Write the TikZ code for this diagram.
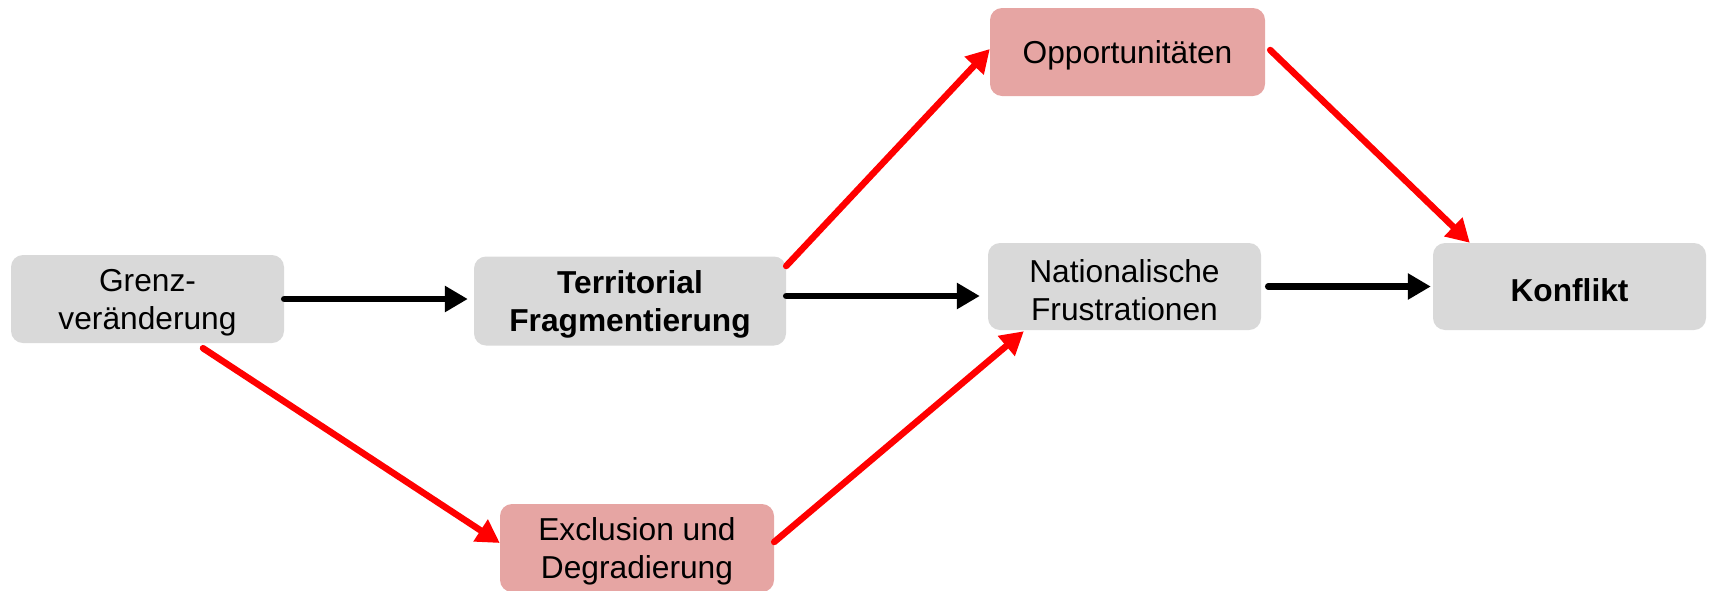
\documentclass[tikz,border=0pt]{standalone}
\usepackage{fontspec}
\setmainfont{Liberation Sans}
\usetikzlibrary{arrows.meta}
\definecolor{boxgray}{HTML}{D9D9D9}
\definecolor{boxred}{HTML}{E6A5A3}
\definecolor{arrred}{HTML}{FF0000}
\begin{document}
\begin{tikzpicture}[x=1pt,y=-1pt,
  box/.style={rounded corners=12pt, inner sep=0pt, align=center, text height=30.5pt,
    font=\fontsize{31.7}{38}\selectfont},
  twoline/.style={text height=68.5pt},
  graybox/.style={box, fill=boxgray},
  redbox/.style={box, fill=boxred},
  blk/.style={line width=6.5pt, line cap=round, draw=black,
    -{Triangle[length=23pt,width=25pt]}},
  rd/.style={line width=6.5pt, line cap=round, draw=arrred,
    -{Triangle[length=23pt,width=25pt]}}]
\useasboundingbox (0,0) rectangle (1714,590);
\node[graybox, twoline, minimum width=273pt, minimum height=88pt] (grenz) at (147.5,299) {Grenz-\\veränderung};
\node[graybox, twoline, minimum width=312pt, minimum height=89pt] (terr) at (630,301) {\bfseries Territorial\\\bfseries Fragmentierung};
\node[redbox, minimum width=275pt, minimum height=88pt] (opp) at (1127.5,52) {Opportunitäten};
\node[graybox, twoline, minimum width=273pt, minimum height=87pt] (nat) at (1124.5,286.5) {Nationalische\\Frustrationen};
\node[graybox, minimum width=273pt, minimum height=87pt] (konf) at (1569.5,286.5) {\bfseries Konflikt};
\node[redbox, twoline, minimum width=274pt, minimum height=88pt] (excl) at (637,548) {Exclusion und\\Degradierung};
% black arrows
\draw[blk, shorten >=6pt] (grenz.east) -- (grenz.east -| terr.west);
\draw[blk, shorten >=8pt] ([yshift=5pt]terr.east) -- ([yshift=-9.5pt]nat.west);
\draw[blk, shorten >=2pt] ([xshift=7pt]nat.east) -- (konf.west);
% red arrows
\draw[rd] ([yshift=35pt]terr.east) -- ([yshift=3pt]opp.west);
\draw[rd] ([xshift=5pt,yshift=2pt]opp.east) -- ([xshift=37pt]konf.north west);
\draw[rd] ([xshift=55.5pt,yshift=-5pt]grenz.south) -- ([yshift=5pt]excl.west);
\draw[rd] ([yshift=6pt]excl.east) -- ([xshift=36pt,yshift=-1pt]nat.south west);
\end{tikzpicture}
\end{document}
